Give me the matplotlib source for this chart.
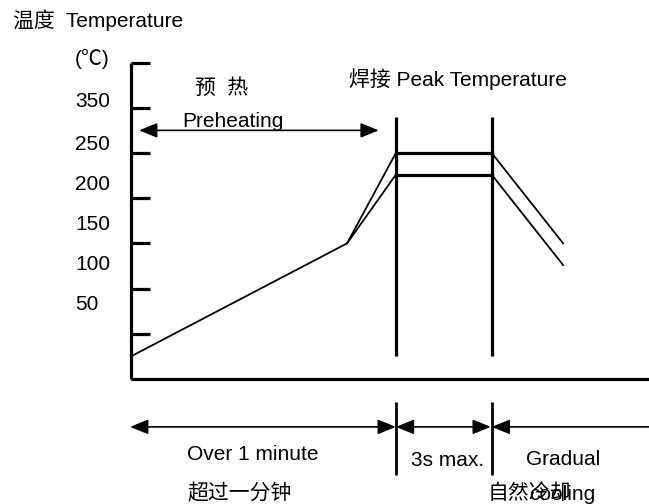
import matplotlib
matplotlib.use("Agg")
import matplotlib.pyplot as plt
from matplotlib.patches import FancyArrowPatch

plt.rcParams['font.family'] = ['Liberation Sans', 'Noto Sans CJK SC']

# schematic reflow profile (time in arbitrary units, temperature in C)
t_profile = [0, 239, 293, 399, 478]
temp_upper = [25, 150, 250, 250, 150]
t_lower = [239, 293, 399, 478]
temp_lower = [150, 226, 226, 126]

# y axis ticks and their (offset) labels
tick_temps = [50, 100, 150, 200, 250, 300, 350]
tick_labels = ["350", "250", "200", "150", "100", "50"]
label_temps = [301, 253, 209, 165, 121, 76]

# phase borders (start/end of the peak zone)
t_peak = [293, 399]
peak_line_range = [25, 290]

# arrows
preheat_span = [9, 274]
preheat_temp = 275
bottom_arrow_temp = -53
phase_spans = [(-1, 293), (293, 398), (399, 600)]
phase_heads = ["<|-|>", "<|-|>", "<|-"]
separator_range = [-26, -106]

fig = plt.figure(figsize=(6.49, 5.04), dpi=100)
ax = fig.add_axes([0, 0, 1, 1])
ax.set_xlim(-144.9, 573.0)
ax.set_ylim(-138.3, 419.2)
ax.axis('off')

FS = 15

# axes: vertical + bottom
ax.plot([0, 0], [0, 350], color='black', lw=2.3, solid_capstyle='butt')
ax.plot([0, 600], [0, 0], color='black', lw=2.3, solid_capstyle='butt')
for tt in tick_temps:
    ax.plot([0, 21], [tt, tt], color='black', lw=2.3, solid_capstyle='butt')

for lab, yy in zip(tick_labels, label_temps):
    ax.text(-62, yy, lab, fontsize=FS, ha='left', va='baseline')
ax.text(-62, 347, "(℃)", fontsize=FS, ha='left', va='baseline')
ax.text(-130.5, 389, "温度  Temperature", fontsize=FS, ha='left', va='baseline')

# profile
ax.plot(t_profile[:3], temp_upper[:3], color='black', lw=1.3)
ax.plot(t_profile[3:], temp_upper[3:], color='black', lw=1.3)
ax.plot(t_profile[2:4], temp_upper[2:4], color='black', lw=2.3)
ax.plot(t_lower[:2], temp_lower[:2], color='black', lw=1.3)
ax.plot(t_lower[2:], temp_lower[2:], color='black', lw=1.3)
ax.plot(t_lower[1:3], temp_lower[1:3], color='black', lw=2.3)

for tp in t_peak:
    ax.plot([tp, tp], peak_line_range, color='black', lw=2.3, solid_capstyle='butt')
    ax.plot([tp, tp], separator_range, color='black', lw=2.0, solid_capstyle='butt')

def arrow(x0, x1, y, style):
    a = FancyArrowPatch((x0, y), (x1, y), arrowstyle=style + ",head_length=11,head_width=4.5",
                        mutation_scale=1, shrinkA=0, shrinkB=0, color='black', lw=1.2)
    ax.add_patch(a)

arrow(preheat_span[0], preheat_span[1], preheat_temp, "<|-|>")
for (x0, x1), st in zip(phase_spans, phase_heads):
    arrow(x0, x1, bottom_arrow_temp, st)

ax.text(71, 315, "预  热", fontsize=FS, ha='left', va='baseline')
ax.text(56.5, 279, "Preheating", fontsize=FS, ha='left', va='baseline')
ax.text(241, 324, "焊接 Peak Temperature", fontsize=FS, ha='left', va='baseline')

ax.text(62, -90, "Over 1 minute", fontsize=FS, ha='left', va='baseline')
ax.text(310, -96, "3s max.", fontsize=FS, ha='left', va='baseline')
ax.text(437, -95, "Gradual", fontsize=FS, ha='left', va='baseline')
ax.text(62, -133, "超过一分钟", fontsize=FS, ha='left', va='baseline')
ax.text(394, -133, "自然冷却", fontsize=FS, ha='left', va='baseline')
ax.text(440, -134, "cooling", fontsize=FS, ha='left', va='baseline')

fig.savefig("out.png", dpi=100)
